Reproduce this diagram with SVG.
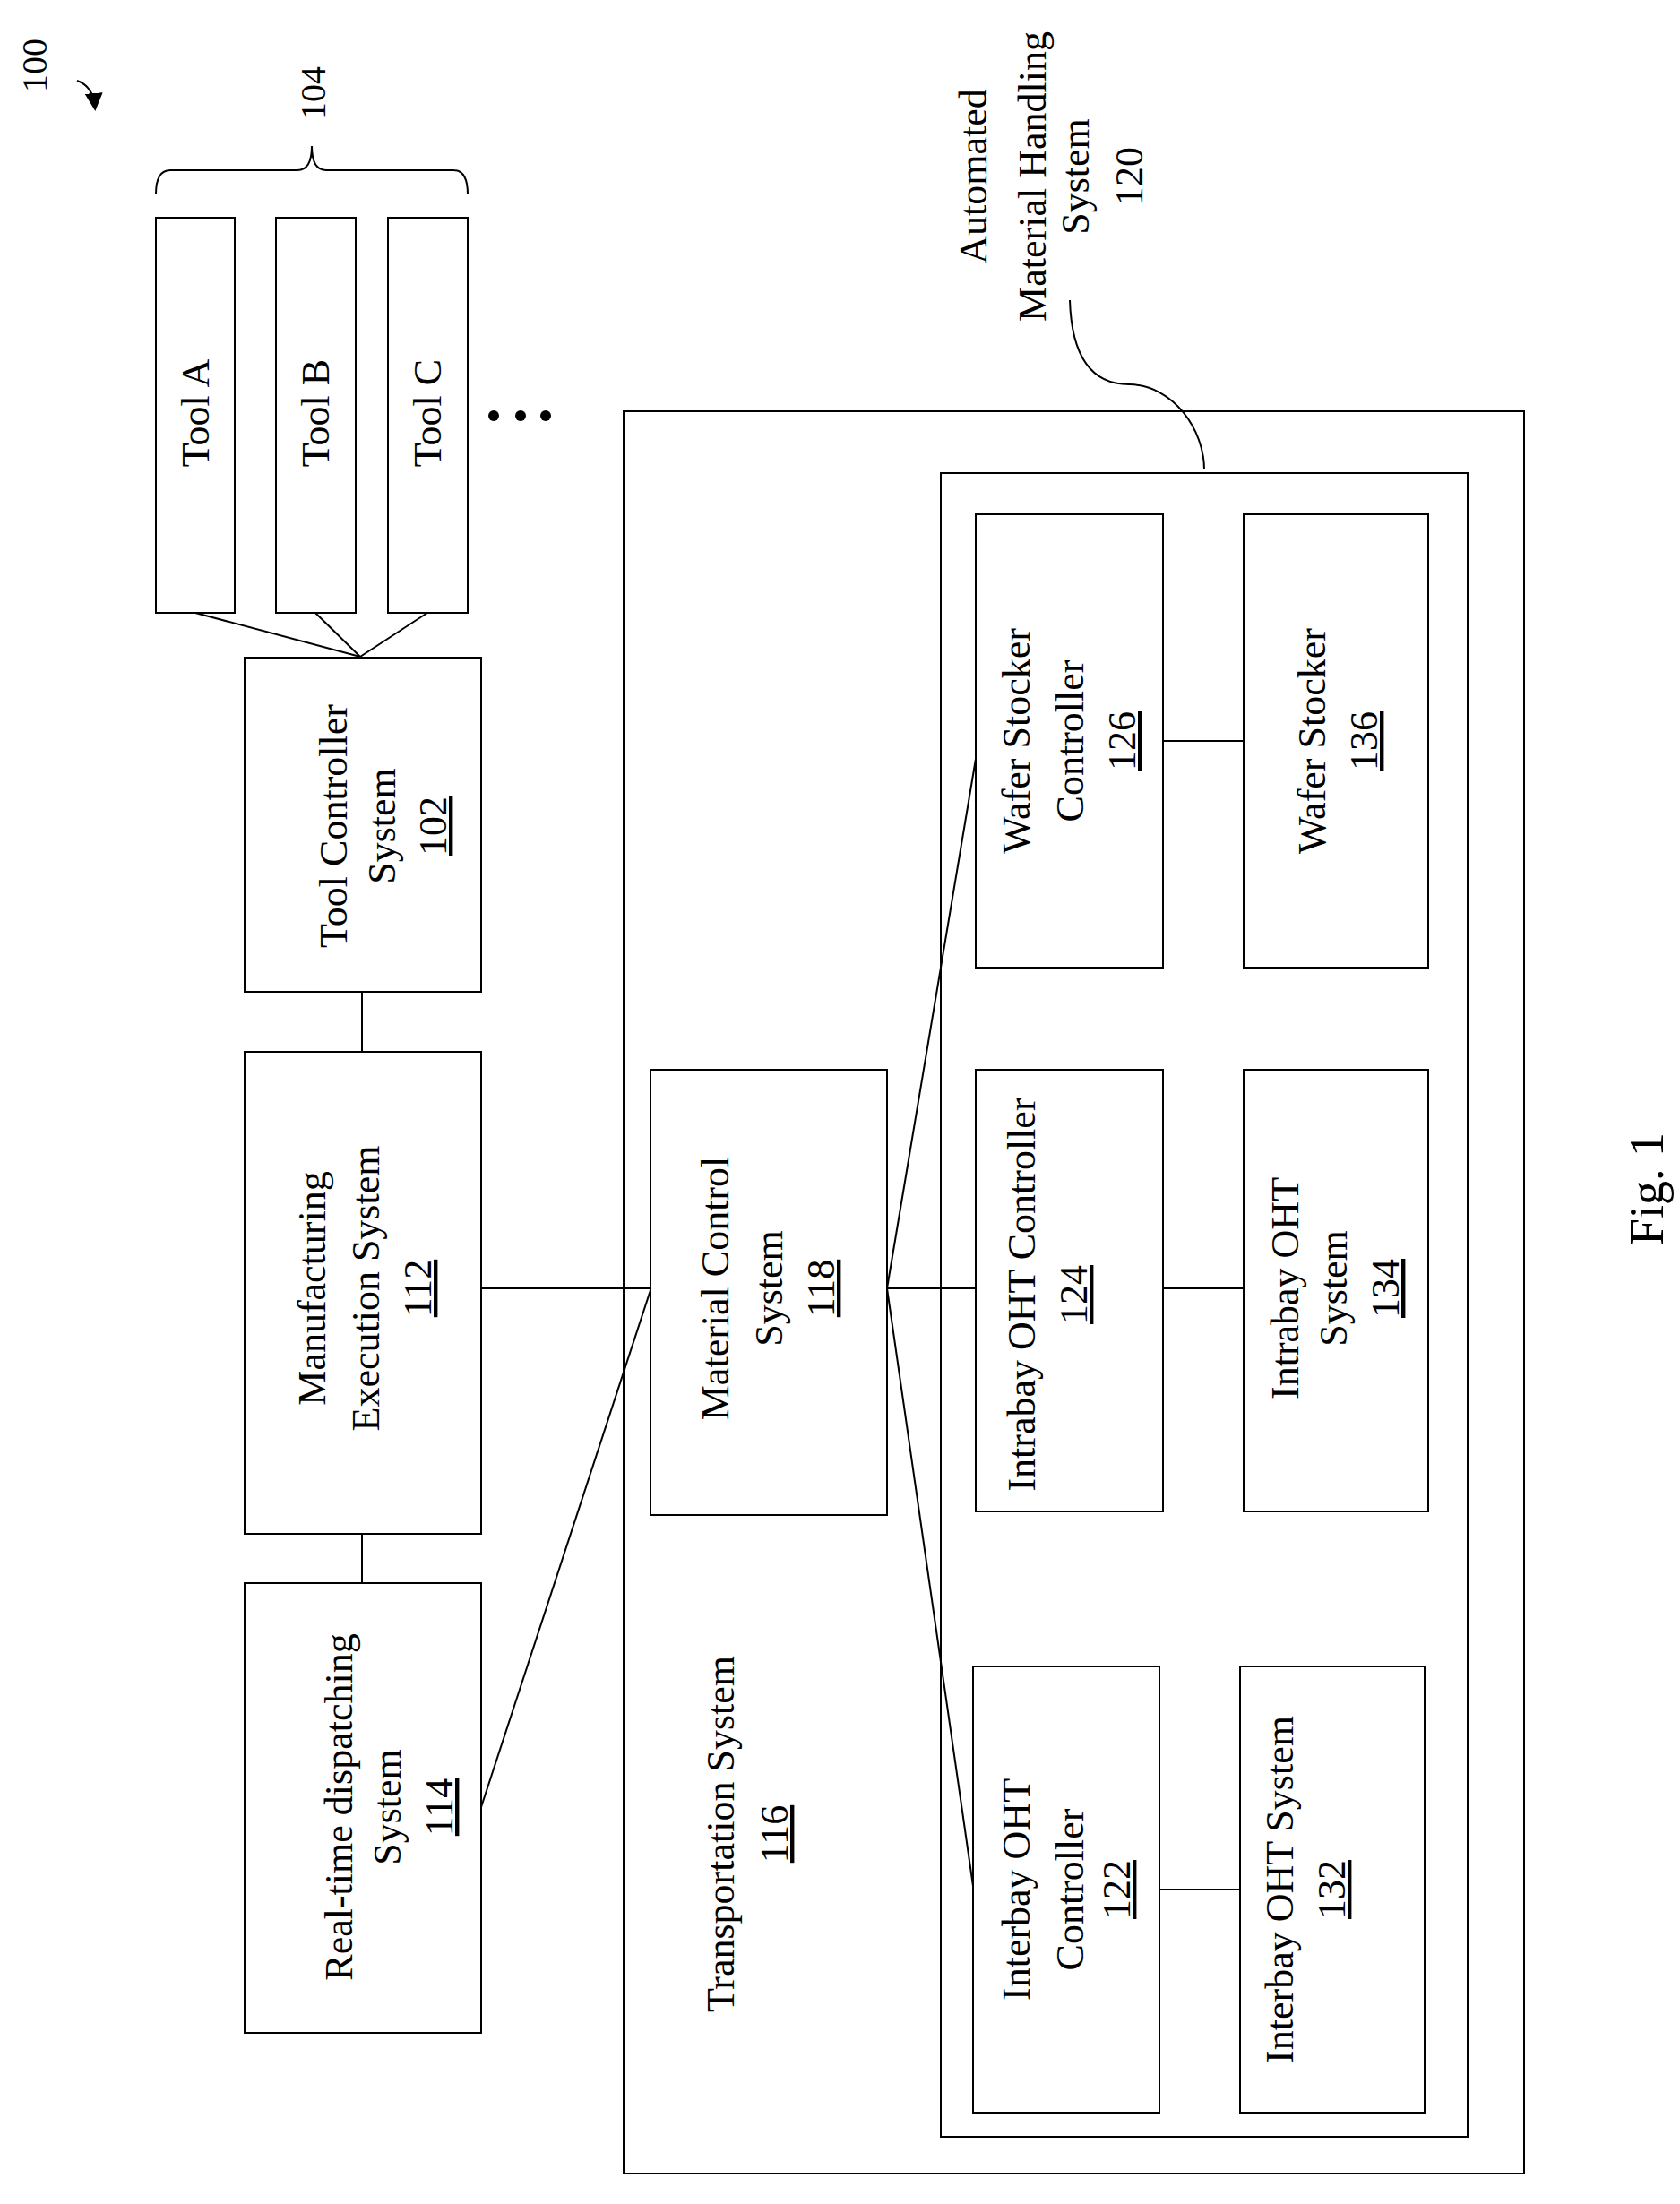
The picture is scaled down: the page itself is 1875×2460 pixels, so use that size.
<svg xmlns="http://www.w3.org/2000/svg" width="1875" height="2460" viewBox="0 0 1875 2460">
<style>
rect{fill:#fff;stroke:#000;stroke-width:2}
.c line,.c path{stroke:#000;stroke-width:2;fill:none}
text{font-family:"Liberation Serif",serif;font-size:44px;text-anchor:middle;fill:#000}
.u{text-decoration:underline}
</style>
<defs><marker id="ah" markerWidth="10" markerHeight="10" refX="8" refY="5" orient="auto"><path d="M0,0 L10,5 L0,10 z" fill="#000"/></marker></defs>
<rect x="0" y="0" width="1875" height="2460" style="stroke:none"/>
<g id="label100"><text transform="translate(52,73) rotate(-90)" style="font-size:40px">100</text></g>
<g id="label104"><text transform="translate(363,104) rotate(-90)" style="font-size:40px">104</text></g>
<g id="transport"><rect x="696" y="459" width="1005" height="1967"/>
<text transform="translate(819,2047) rotate(-90)">Transportation System</text>
<text transform="translate(879,2047) rotate(-90)" class="u">116</text></g>
<g id="amhs"><rect x="1050" y="528" width="588" height="1857"/>
<text transform="translate(1101,197) rotate(-90)">Automated</text>
<text transform="translate(1167,197) rotate(-90)">Material Handling</text>
<text transform="translate(1215,197) rotate(-90)">System</text>
<text transform="translate(1275,197) rotate(-90)">120</text></g>
<g id="toolA"><rect x="174" y="243" width="88" height="441"/><text transform="translate(233,461) rotate(-90)">Tool A</text></g>
<g id="toolB"><rect x="308" y="243" width="89" height="441"/><text transform="translate(367,461) rotate(-90)">Tool B</text></g>
<g id="toolC"><rect x="433" y="243" width="89" height="441"/><text transform="translate(492,461) rotate(-90)">Tool C</text></g>
<g id="tcs"><rect x="273" y="734" width="264" height="373"/>
<text transform="translate(387,922) rotate(-90)">Tool Controller</text>
<text transform="translate(441,922) rotate(-90)">System</text>
<text transform="translate(498,922) rotate(-90)" class="u">102</text></g>
<g id="mes"><rect x="273" y="1174" width="264" height="538"/>
<text transform="translate(363,1438) rotate(-90)">Manufacturing</text>
<text transform="translate(423,1438) rotate(-90)">Execution System</text>
<text transform="translate(481,1438) rotate(-90)" class="u">112</text></g>
<g id="rtd"><rect x="273" y="1767" width="264" height="502"/>
<text transform="translate(393,2017) rotate(-90)">Real-time dispatching</text>
<text transform="translate(447,2017) rotate(-90)">System</text>
<text transform="translate(505,2017) rotate(-90)" class="u">114</text></g>
<g id="mcs"><rect x="726" y="1194" width="264" height="497"/>
<text transform="translate(813,1438) rotate(-90)">Material Control</text>
<text transform="translate(873,1438) rotate(-90)">System</text>
<text transform="translate(931,1438) rotate(-90)" class="u">118</text></g>
<g id="wsc"><rect x="1089" y="574" width="209" height="506"/>
<text transform="translate(1149,827) rotate(-90)">Wafer Stocker</text>
<text transform="translate(1209,827) rotate(-90)">Controller</text>
<text transform="translate(1267,827) rotate(-90)" class="u">126</text></g>
<g id="ws"><rect x="1388" y="574" width="206" height="506"/>
<text transform="translate(1479,827) rotate(-90)">Wafer Stocker</text>
<text transform="translate(1537,827) rotate(-90)" class="u">136</text></g>
<g id="intraC"><rect x="1089" y="1194" width="209" height="493"/>
<text transform="translate(1155,1445) rotate(-90)">Intrabay OHT Controller</text>
<text transform="translate(1213,1445) rotate(-90)" class="u">124</text></g>
<g id="intraS"><rect x="1388" y="1194" width="206" height="493"/>
<text transform="translate(1449,1438) rotate(-90)">Intrabay OHT</text>
<text transform="translate(1503,1438) rotate(-90)">System</text>
<text transform="translate(1561,1438) rotate(-90)" class="u">134</text></g>
<g id="interC"><rect x="1086" y="1860" width="208" height="498"/>
<text transform="translate(1149,2109) rotate(-90)">Interbay OHT</text>
<text transform="translate(1209,2109) rotate(-90)">Controller</text>
<text transform="translate(1261,2109) rotate(-90)" class="u">122</text></g>
<g id="interS"><rect x="1384" y="1860" width="206" height="498"/>
<text transform="translate(1443,2109) rotate(-90)">Interbay OHT System</text>
<text transform="translate(1501,2109) rotate(-90)" class="u">132</text></g>
<g id="fig"><text transform="translate(1856,1327) rotate(-90)" style="font-size:54px">Fig.  1</text></g>
<g class="c" id="connectors">
<path d="M86,90 Q104,96 106,120" marker-end="url(#ah)"/>
<path d="M174,217 Q174,190 190,190 L332,190 Q348,190 348,163 Q348,190 364,190 L506,190 Q522,190 522,217"/>
<path d="M1194,335 C1196,400 1220,429 1260,429 C1310,430 1344,480 1344,524"/>
<line x1="218" y1="684" x2="402" y2="733"/>
<line x1="352" y1="684" x2="402" y2="733"/>
<line x1="477" y1="684" x2="402" y2="733"/>
<line x1="404" y1="1107" x2="404" y2="1174"/>
<line x1="404" y1="1712" x2="404" y2="1767"/>
<line x1="537" y1="1438" x2="726" y2="1438"/>
<line x1="537" y1="2017" x2="726" y2="1440"/>
<line x1="990" y1="1438" x2="1089" y2="1438"/>
<line x1="990" y1="1438" x2="1089" y2="847"/>
<line x1="990" y1="1438" x2="1086" y2="2105"/>
<line x1="1298" y1="827" x2="1388" y2="827"/>
<line x1="1298" y1="1438" x2="1388" y2="1438"/>
<line x1="1294" y1="2109" x2="1384" y2="2109"/>
<circle cx="551" cy="464" r="6" fill="#000" stroke="none"/>
<circle cx="581" cy="464" r="6" fill="#000" stroke="none"/>
<circle cx="609" cy="464" r="6" fill="#000" stroke="none"/>
</g>
</svg>
